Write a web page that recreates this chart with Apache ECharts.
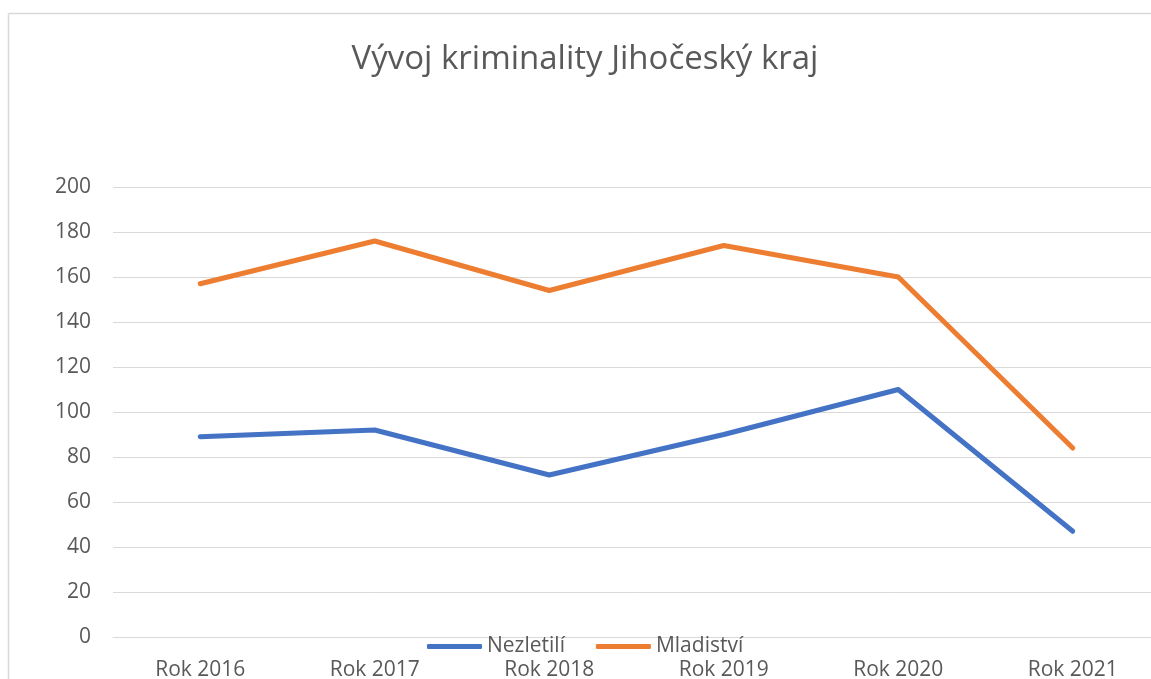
<!DOCTYPE html>
<html lang="cs">
<head>
    <meta charset="UTF-8">
    <title>Vývoj kriminality Jihočeský kraj</title>
    <script src="https://cdn.jsdelivr.net/npm/echarts@6/dist/echarts.min.js"></script>
    <style type="text/css">
        body{
            margin: 0px;
            padding: 0px;
            background: #ffffff;
            overflow: hidden;
        }
        #chart{
            width: 1151px;
            height: 679px;
        }
    </style>
</head>
<body>
    <div id="chart"></div>
<script type="text/javascript">
    // data
    var roky = ['Rok 2016', 'Rok 2017', 'Rok 2018', 'Rok 2019', 'Rok 2020', 'Rok 2021'];
    var nezletili = [89, 92, 72, 90, 110, 47];
    var mladistvi = [157, 176, 154, 174, 160, 84];
    var yTicks = {min: 0, max: 200, step: 20};

    var font = '"Open Sans", "Noto Sans", sans-serif';
    var textColor = '#595959';
    var frameStyle = {stroke: '#d9d9d9', lineWidth: 1.5};

    var myChart = echarts.init(document.getElementById('chart'));
    myChart.setOption({
        animation: false,
        backgroundColor: '#ffffff',
        graphic: [
            // chart frame: only top and left edges are visible
            {type: 'line', silent: true, shape: {x1: 8.5, y1: 13.5, x2: 1151, y2: 13.5}, style: frameStyle},
            {type: 'line', silent: true, shape: {x1: 8.5, y1: 13.5, x2: 8.5, y2: 679}, style: frameStyle}
        ],
        title: {
            text: 'Vývoj kriminality Jihočeský kraj',
            left: 585,
            top: 43,
            padding: 0,
            textAlign: 'center',
            textStyle: {
                fontFamily: font,
                fontSize: 33,
                fontWeight: 'normal',
                color: textColor
            }
        },
        legend: {
            left: 427,
            top: 636,
            padding: 0,
            itemWidth: 55,
            itemHeight: 5,
            itemGap: 31,
            icon: 'roundRect',
            textStyle: {fontFamily: font, fontSize: 21, color: textColor}
        },
        grid: {
            left: 113,
            right: -9,
            top: 187,
            bottom: 42,
            outerBoundsMode: 'none'
        },
        xAxis: {
            type: 'category',
            data: roky,
            boundaryGap: true,
            axisLine: {show: true, lineStyle: {color: '#d9d9d9', width: 1}},
            axisTick: {show: false},
            axisLabel: {
                fontFamily: font,
                fontSize: 21,
                color: textColor,
                margin: 23
            }
        },
        yAxis: {
            type: 'value',
            min: yTicks.min,
            max: yTicks.max,
            interval: yTicks.step,
            axisLine: {show: false},
            axisTick: {show: false},
            splitLine: {lineStyle: {color: '#d9d9d9', width: 1}},
            axisLabel: {
                fontFamily: font,
                fontSize: 21,
                color: textColor,
                margin: 22
            }
        },
        series: [
            {
                name: 'Nezletilí',
                type: 'line',
                data: nezletili,
                showSymbol: false,
                symbol: 'none',
                itemStyle: {color: '#4472C4'},
                lineStyle: {color: '#4472C4', width: 5, cap: 'round', join: 'round'}
            },
            {
                name: 'Mladiství',
                type: 'line',
                data: mladistvi,
                showSymbol: false,
                symbol: 'none',
                itemStyle: {color: '#ED7D31'},
                lineStyle: {color: '#ED7D31', width: 5, cap: 'round', join: 'round'}
            }
        ]
    });
</script>
</body>
</html>
